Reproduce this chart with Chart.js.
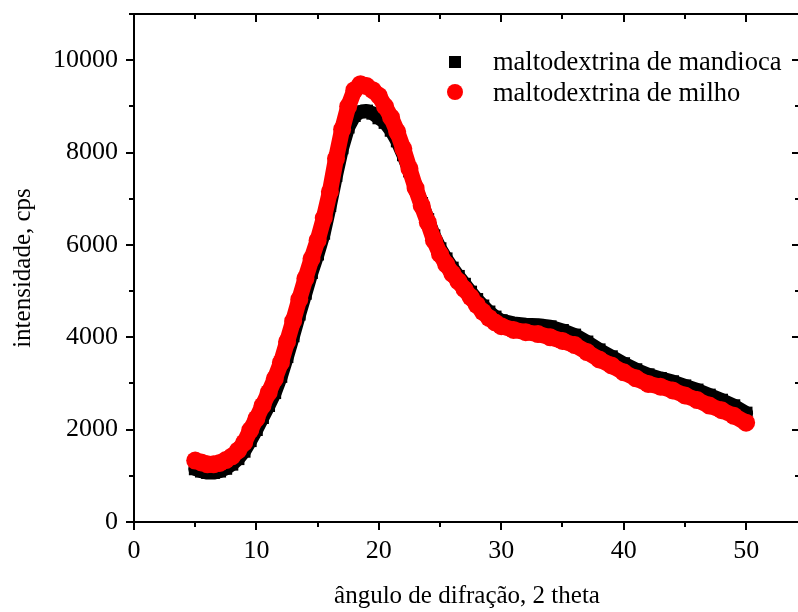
<!DOCTYPE html>
<html>
<head>
<meta charset="utf-8">
<script src="https://cdn.jsdelivr.net/npm/chart.js@4/dist/chart.umd.min.js"></script>
<style>
  html, body { margin: 0; padding: 0; overflow: hidden; background: #fff; }
  canvas { display: block; }
</style>
</head>
<body>
<canvas id="difracao" width="800" height="612"></canvas>
<script>
// ângulo 2θ (graus)
const angulo = [5, 5.5, 6, 6.5, 7, 7.5, 8, 8.5, 9, 9.5, 10, 10.5, 11, 11.5, 12, 12.5, 13, 13.5, 14, 14.5,
  15, 15.5, 16, 16.5, 17, 17.5, 18, 18.5, 19, 19.5, 20, 20.5, 21, 21.5, 22, 22.5, 23, 23.5, 24, 24.5,
  25, 25.5, 26, 26.5, 27, 27.5, 28, 28.5, 29, 29.5, 30, 31, 32, 33, 34, 35, 36, 37, 38, 39,
  40, 41, 42, 43, 44, 45, 46, 47, 48, 49, 50];

// intensidade (cps)
const mandioca = [1150, 1100, 1070, 1070, 1100, 1160, 1250, 1370, 1530, 1760, 2000, 2260, 2520, 2800, 3150, 3580, 4030, 4500, 4950, 5400,
  5800, 6250, 6850, 7500, 8100, 8550, 8800, 8880, 8900, 8850, 8750, 8650, 8480, 8250, 7950, 7600, 7250, 6900, 6550, 6200,
  5920, 5700, 5500, 5320, 5150, 4980, 4820, 4680, 4550, 4440, 4360, 4300, 4270, 4260, 4230, 4150, 4050, 3900, 3730, 3580,
  3430, 3300, 3190, 3110, 3040, 2950, 2860, 2750, 2640, 2520, 2360];

const milho = [1330, 1290, 1250, 1250, 1280, 1340, 1420, 1550, 1717, 1990, 2240, 2520, 2800, 3100, 3450, 3900, 4350, 4820, 5270, 5700,
  6100, 6580, 7150, 7870, 8500, 9000, 9350, 9480, 9440, 9350, 9230, 9000, 8760, 8450, 8080, 7650, 7230, 6850, 6490, 6100,
  5800, 5580, 5380, 5210, 5040, 4870, 4700, 4550, 4420, 4320, 4240, 4160, 4110, 4070, 4000, 3920, 3830, 3680, 3520, 3390,
  3240, 3110, 2990, 2930, 2850, 2740, 2640, 2520, 2420, 2300, 2150];

const xTicks = [0, 5, 10, 15, 20, 25, 30, 35, 40, 45, 50];
const yTicks = [0, 1000, 2000, 3000, 4000, 5000, 6000, 7000, 8000, 9000, 10000, 11000];
const yLabels = [0, 2000, 4000, 6000, 8000, 10000];

const fonte = 'Liberation Serif, Times New Roman, serif';

// moldura com marcas maiores e menores (para fora em baixo/esquerda, para dentro em cima/direita)
const moldura = {
  id: 'moldura',
  afterDraw(chart) {
    const { ctx, chartArea: a, scales: { x, y } } = chart;
    ctx.save();
    ctx.strokeStyle = '#000';
    ctx.lineWidth = 2;
    ctx.strokeRect(a.left, a.top, a.right - a.left, a.bottom - a.top);
    ctx.beginPath();
    xTicks.forEach(v => {
      const px = Math.round(x.getPixelForValue(v));
      const len = v % 10 === 0 ? 8 : 5;
      ctx.moveTo(px, a.bottom); ctx.lineTo(px, a.bottom + len);
      ctx.moveTo(px, a.top); ctx.lineTo(px, a.top + len);
    });
    yTicks.forEach(v => {
      const py = Math.round(y.getPixelForValue(v));
      const len = v % 2000 === 0 ? 8 : 5;
      ctx.moveTo(a.left, py); ctx.lineTo(a.left - len, py);
      ctx.moveTo(a.right, py); ctx.lineTo(a.right - len, py);
    });
    ctx.stroke();

    // legenda dentro do gráfico
    ctx.font = '26.5px ' + fonte;
    ctx.textBaseline = 'middle';
    ctx.fillStyle = '#000';
    ctx.fillRect(449, 56, 12, 12);
    ctx.fillText('maltodextrina de mandioca', 493, 63);
    ctx.fillStyle = '#ff0000';
    ctx.beginPath();
    ctx.arc(455, 92, 8, 0, Math.PI * 2);
    ctx.fill();
    ctx.fillStyle = '#000';
    ctx.fillText('maltodextrina de milho', 493, 94);
    ctx.restore();
  }
};

const ctx = document.getElementById('difracao').getContext('2d');

new Chart(ctx, {
  type: 'scatter',
  data: {
    datasets: [
      {
        label: 'maltodextrina de mandioca',
        data: angulo.map((a, i) => ({ x: a, y: mandioca[i] })),
        showLine: true,
        borderColor: '#000',
        backgroundColor: '#000',
        borderWidth: 14,
        borderJoinStyle: 'round',
        borderCapStyle: 'round',
        pointStyle: 'rect',
        pointRadius: 9,
        pointBorderWidth: 0,
        order: 2
      },
      {
        label: 'maltodextrina de milho',
        data: angulo.map((a, i) => ({ x: a, y: milho[i] })),
        showLine: true,
        borderColor: '#ff0000',
        backgroundColor: '#ff0000',
        borderWidth: 16,
        borderJoinStyle: 'round',
        borderCapStyle: 'round',
        pointStyle: 'circle',
        pointRadius: 9,
        pointBorderWidth: 0,
        order: 1
      }
    ]
  },
  options: {
    responsive: false,
    animation: false,
    layout: { autoPadding: false, padding: { top: 14, right: 0, left: 0, bottom: 0 } },
    plugins: {
      legend: { display: false },
      tooltip: { enabled: false }
    },
    scales: {
      x: {
        type: 'linear',
        min: 0,
        max: 54.4,
        grid: { display: false, drawTicks: false },
        border: { display: false },
        ticks: {
          stepSize: 10,
          includeBounds: false,
          padding: 14,
          color: '#000',
          font: { family: fonte, size: 26 }
        },
        title: {
          display: true,
          text: 'ângulo de difração, 2 theta',
          color: '#000',
          font: { family: fonte, size: 25 },
          padding: { top: 0, bottom: 1 }
        },
        afterFit: (s) => { s.height = 90; s.paddingLeft = 0; s.paddingRight = 0; }
      },
      y: {
        type: 'linear',
        min: 0,
        max: 11000,
        grid: { display: false, drawTicks: false },
        border: { display: false },
        afterBuildTicks: (s) => { s.ticks = yLabels.map(v => ({ value: v })); },
        ticks: {
          padding: 16,
          color: '#000',
          font: { family: fonte, size: 26 },
          callback: (v) => String(v)
        },
        title: {
          display: true,
          text: 'intensidade, cps',
          color: '#000',
          font: { family: fonte, size: 25 },
          padding: { top: 8, bottom: 0 }
        },
        afterFit: (s) => { s.width = 134; s.paddingTop = 0; s.paddingBottom = 0; }
      }
    }
  },
  plugins: [moldura]
});
</script>
</body>
</html>
